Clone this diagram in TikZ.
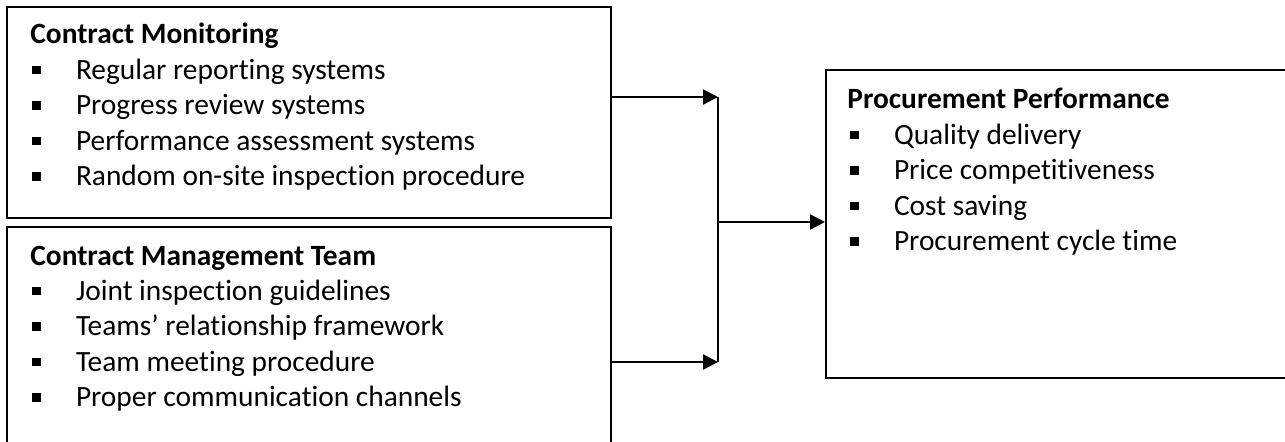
\documentclass[tikz,border=0pt]{standalone}
\usepackage{fontspec}
\setmainfont[Ligatures=NoCommon]{Carlito}
\usetikzlibrary{arrows.meta, positioning}
\newcommand{\sqbullet}{\makebox[21.8pt][l]{\rule[2.4pt]{4.3pt}{4.3pt}}}

\begin{document}
\begin{tikzpicture}[
    x=0.5pt, y=-0.5pt,
    box/.style={rectangle, draw, line width=1pt, anchor=north west, inner sep=0pt},
    heading/.style={anchor=base west, inner sep=0pt, font=\fontsize{14.7pt}{17pt}\selectfont\bfseries},
    entry/.style={anchor=base west, inner sep=0pt, font=\fontsize{14.7pt}{17pt}\selectfont},
    link/.style={-{Triangle[length=7.5pt, width=7.5pt]}, line width=1.1pt},
    joiner/.style={line width=0.6pt}
  ]
    \useasboundingbox (0,0) rectangle (1285,441);

    \node[box, minimum width=302pt, minimum height=105.5pt] (monitor) at (6,6) {};
    \node[box, minimum width=302pt, minimum height=117pt] (team) at (6,226) {};
    \node[box, minimum width=232.5pt, minimum height=154pt] (perf) at (825,69) {};

    \node[heading] (monitor-head) at (30,43) {Contract Monitoring};
    \foreach \txt [count=\i from 0] in {Regular reporting systems, Progress review systems,
        Performance assessment systems, Random on-site inspection procedure}
      \node[entry] (monitor-\i) at (32,79+35.5*\i) {\sqbullet\txt};

    \node[heading] (team-head) at (30,265) {Contract Management Team};
    \foreach \txt [count=\i from 0] in {Joint inspection guidelines, Teams’ relationship framework,
        Team meeting procedure, Proper communication channels}
      \node[entry] (team-\i) at (32,300+35.5*\i) {\sqbullet\txt};

    \node[heading] (perf-head) at (847,108) {Procurement Performance};
    \foreach \txt [count=\i from 0] in {Quality delivery, Price competitiveness,
        Cost saving, Procurement cycle time}
      \node[entry] (perf-\i) at (850,144+35.5*\i) {\sqbullet\txt};

    \coordinate (jtop) at (718,97);
    \coordinate (jbot) at (718,362);
    \coordinate (join) at (718,222);

    \draw[link] (monitor.east |- jtop) -- (jtop);
    \draw[link] (team.east |- jbot) -- (jbot);
    \draw[joiner] (jtop) -- (jbot);
    \draw[link] (join) -- (join -| perf.west);
  \end{tikzpicture}
\end{document}
